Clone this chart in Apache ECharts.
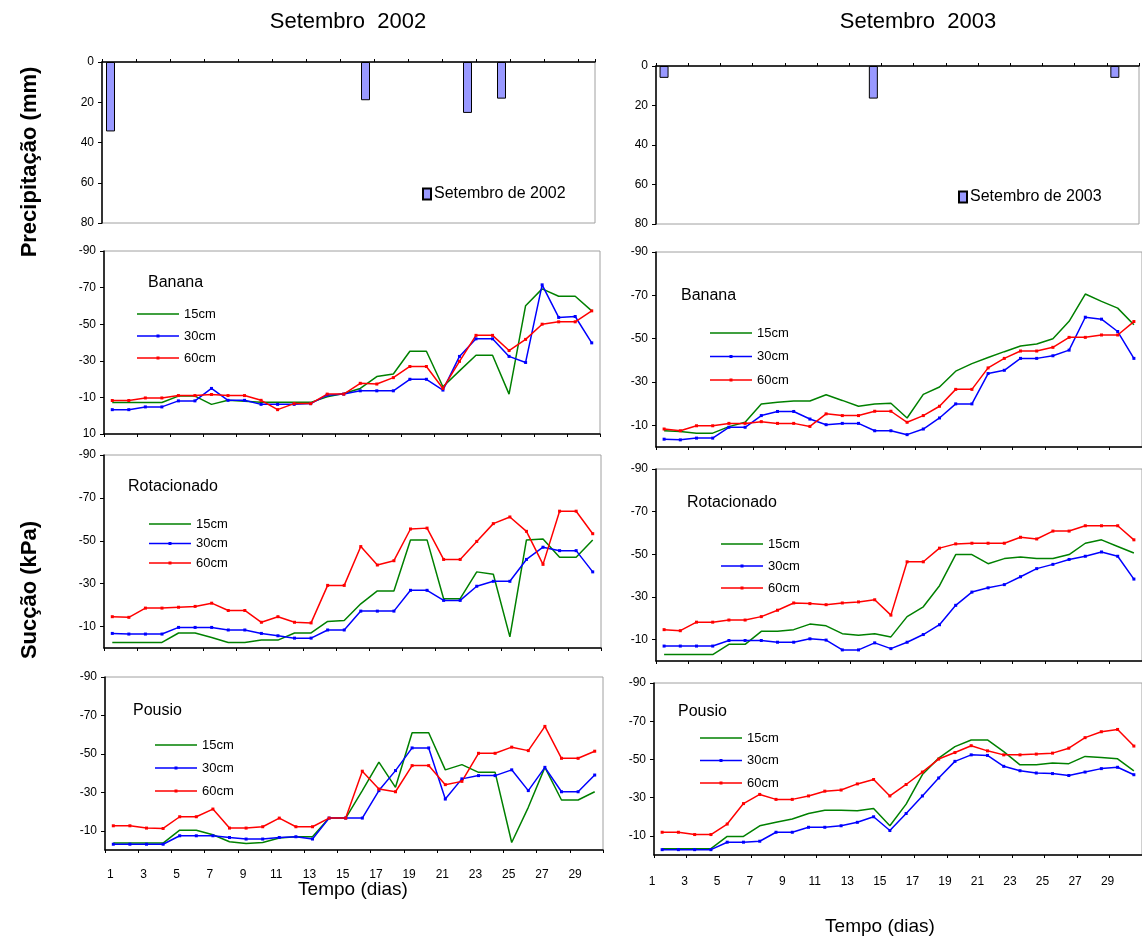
<!DOCTYPE html>
<html>
<head>
<meta charset="utf-8">
<script src="https://cdn.jsdelivr.net/npm/echarts@6/dist/echarts.min.js"></script>
<style>
html, body { margin: 0; padding: 0; background: #fff; }
#chart { width: 1142px; height: 938px; }
</style>
</head>
<body>
<div id="chart"></div>
<script>
// dias do mês
var days = ['1','2','3','4','5','6','7','8','9','10','11','12','13','14','15','16','17','18','19','20','21','22','23','24','25','26','27','28','29','30'];
// o gráfico de chuva de 2002 tem 29 posições no eixo
var rainSlots2002 = ['1','2','3','4','5','6','7','8','9','10','11','12','13','14','15','16','17','18','19','20','21','22','23','24','25','26','27','28','29'];

// precipitação (mm)
var rain2002 = [34.5,0,0,0,0,0,0,0,0,0,0,0,0,0,0,19,0,0,0,0,0,25.3,0,18.2,0,0,0,0,0];
var rain2003 = [6,0,0,0,0,0,0,0,0,0,0,0,0,16.5,0,0,0,0,0,0,0,0,0,0,0,0,0,0,6,0];

// sucção (kPa) - setembro 2002
var banana2002_15 = [-7.2,-7.2,-7.2,-7.2,-10.7,-10.7,-6.2,-8.4,-7.9,-7.3,-7.3,-7.3,-7.3,-10.3,-12.1,-14.9,-21.4,-22.8,-35.2,-35.2,-15.8,-24.5,-33,-33,-11.8,-60.1,-69.3,-65.3,-65.3,-57.3];
var banana2002_30 = [-3.3,-3.3,-4.8,-4.8,-8.1,-8.1,-14.9,-8.4,-8.4,-6.2,-6.2,-6.2,-6.6,-11.2,-11.8,-13.6,-13.6,-13.6,-19.9,-19.9,-14,-32.4,-42,-42,-32.4,-29.1,-71.5,-53.7,-54.2,-39.8];
var banana2002_60 = [-8.3,-8.3,-9.7,-9.7,-11,-11,-11.6,-11,-11,-8.4,-3.3,-6.6,-6.6,-11.8,-11.8,-17.7,-17.3,-20.8,-26.9,-26.9,-14.9,-29.7,-43.9,-43.9,-35.6,-41.7,-50,-51.3,-51.3,-57.3];

var rot2002_15 = [-2.6,-2.6,-2.6,-2.6,-7,-7,-4.9,-2.6,-2.6,-3.7,-3.7,-7,-7,-12.4,-12.8,-20.6,-26.6,-26.6,-50.4,-50.4,-23,-23,-35.5,-34.4,-5.2,-50.4,-50.8,-42.3,-42.3,-50.4];
var rot2002_30 = [-6.8,-6.5,-6.5,-6.5,-9.6,-9.6,-9.6,-8.4,-8.4,-6.8,-5.7,-4.6,-4.6,-8.4,-8.4,-17.2,-17.2,-17.2,-26.9,-26.9,-22.2,-22.2,-28.8,-31.1,-31.1,-41.3,-47,-45.4,-45.4,-35.5];
var rot2002_60 = [-14.6,-14.3,-18.6,-18.6,-19,-19.4,-20.9,-17.5,-17.5,-12,-14.6,-12,-11.7,-29.2,-29.2,-47.3,-38.7,-40.7,-55.5,-55.9,-41.3,-41.3,-49.7,-58,-61.1,-54.4,-39,-63.8,-63.8,-53.3];

var pousio2002_15 = [-3.6,-3.6,-3.6,-3.6,-10.3,-10.3,-7.9,-4.3,-3.4,-3.9,-6.2,-6.9,-6.9,-16.6,-16.6,-30.9,-45.7,-32.6,-61,-61,-41.7,-44.4,-40.4,-40.4,-3.9,-22.2,-43,-26,-26,-30.3];
var pousio2002_30 = [-3,-3,-3,-3,-7.4,-7.4,-7.4,-6.5,-5.7,-5.7,-6.5,-6.9,-5.7,-16.6,-16.6,-16.6,-30.9,-41.3,-53.1,-53.1,-26.5,-37,-38.7,-38.7,-41.7,-30.9,-43,-30.3,-30.3,-39];
var pousio2002_60 = [-12.6,-12.6,-11.4,-11.2,-17.3,-17.3,-21.3,-11.4,-11.4,-12.1,-16.6,-12.1,-12.1,-16.6,-16.6,-41,-31.7,-30.3,-43.9,-43.9,-34,-35.7,-50.3,-50.3,-53.5,-51.7,-64.3,-47.7,-47.7,-51.4];

// sucção (kPa) - setembro 2003
var banana2003_15 = [-7.5,-7.2,-6.4,-6.4,-9.4,-11.4,-19.9,-20.7,-21.2,-21.2,-24.1,-21.5,-18.8,-19.9,-20.2,-13.4,-24.3,-27.7,-35,-38.5,-41.3,-44,-46.6,-47.5,-50,-58,-70.6,-67.2,-64.1,-56.4];
var banana2003_30 = [-3.6,-3.3,-4.1,-4.1,-9.1,-9.1,-14.5,-16.4,-16.4,-12.9,-10.3,-10.9,-10.9,-7.5,-7.5,-5.7,-8.3,-13.4,-19.9,-19.9,-33.9,-35.4,-40.9,-40.9,-42.1,-44.7,-59.9,-59,-53.3,-40.9];
var banana2003_60 = [-8.3,-7.5,-9.8,-9.8,-10.9,-10.9,-11.7,-10.9,-10.9,-9.5,-15.3,-14.5,-14.5,-16.5,-16.5,-11.4,-14.5,-18.8,-26.6,-26.6,-36.5,-40.9,-44.3,-44.3,-46,-50.6,-50.6,-51.7,-51.7,-57.9];

var rot2003_15 = [-3,-3,-3,-3,-7.8,-7.8,-13.9,-13.9,-14.7,-17.3,-16.5,-12.8,-12.1,-12.8,-11.3,-20.8,-25.4,-35.3,-49.9,-49.9,-45.6,-48,-48.8,-48,-48,-49.9,-55.2,-56.8,-53.7,-50.6];
var rot2003_30 = [-7,-7,-7,-7,-9.6,-9.6,-9.6,-8.8,-8.8,-10.4,-9.8,-5.2,-5.2,-8.5,-5.8,-8.8,-12.4,-17,-26.1,-32.3,-34.3,-35.8,-39.5,-43.3,-45.3,-47.6,-49.1,-51.1,-49.1,-38.4];
var rot2003_60 = [-14.7,-14.2,-18.2,-18.2,-19.2,-19.2,-20.8,-23.8,-27.2,-26.9,-26.4,-27.2,-27.7,-28.7,-21.5,-46.5,-46.5,-52.9,-54.9,-55.2,-55.2,-55.2,-58,-57.2,-60.9,-60.9,-63.4,-63.4,-63.4,-56.8];

var pousio2003_15 = [-3.3,-3.3,-3.3,-3.3,-9.7,-9.7,-15.3,-17.1,-18.8,-21.7,-23.4,-23.4,-23.1,-24.3,-15.3,-26.6,-42.1,-50.7,-56.7,-60.2,-60.2,-54.1,-47.2,-47.2,-48.1,-47.8,-51.6,-51,-50.3,-44];
var pousio2003_30 = [-2.8,-2.8,-2.8,-2.8,-6.7,-6.7,-7.2,-11.9,-11.9,-14.5,-14.5,-15.3,-17.1,-20,-12.8,-21.7,-30.9,-40.3,-49,-52.4,-52.1,-46.4,-44.1,-42.9,-42.6,-41.6,-43.4,-45.2,-45.9,-42];
var pousio2003_60 = [-11.9,-11.9,-10.7,-10.7,-16.2,-26.9,-31.7,-29.1,-29.1,-30.9,-33.4,-34,-37.2,-39.5,-30.9,-36.9,-43.4,-50.2,-53.6,-57.2,-54.5,-52.4,-52.4,-52.8,-53.3,-55.9,-61.4,-64.5,-65.7,-57];

var rainTicks = [0, 20, 40, 60, 80];
var suctionTicks = [-90, -70, -50, -30, -10];
var suctionTicksBanana2002 = [-90, -70, -50, -30, -10, 10];

var FONT = '"Liberation Sans", Arial, sans-serif';
var GREEN = '#008000', BLUE = '#0000ff', RED = '#ff0000';
var AXIS = '#000', BORDER = '#a0a0a0';
// ícones da legenda: traço fino, com marcador pequeno no meio para 30cm e 60cm
var ICON_LINE = 'path://M0,0.75L42,0.75L42,2.25L0,2.25Z';
var ICON_MARK = 'path://M0,0.75L42,0.75L42,2.25L0,2.25Z M19.5,0L22.5,0L22.5,3L19.5,3Z';

var myChart = echarts.init(document.getElementById('chart'), null, { renderer: 'canvas' });

var grid = [], xAxis = [], yAxis = [], series = [], legend = [], graphic = [];

// ---- precipitação ----
function addRain(left, top, width, height, cats, values, name, legendLeft, legendTop) {
  var i = grid.length;
  grid.push({ left: left, top: top, width: width, height: height, show: true, borderColor: BORDER, borderWidth: 1, backgroundColor: 'transparent' });
  xAxis.push({
    gridIndex: i, type: 'category', data: cats, position: 'top', boundaryGap: true,
    axisLine: { onZero: false, lineStyle: { color: AXIS, width: 1.5 } },
    axisTick: { show: true, length: 3, lineStyle: { color: AXIS } },
    axisLabel: { show: false }
  });
  yAxis.push({
    gridIndex: i, type: 'value', inverse: true, min: 0, max: 80, interval: 20,
    axisLine: { show: true, lineStyle: { color: AXIS, width: 1.5 } },
    axisTick: { show: true, length: 4, customValues: rainTicks, lineStyle: { color: AXIS } },
    axisLabel: { customValues: rainTicks, color: '#000', fontSize: 12, fontFamily: FONT, margin: 8 },
    splitLine: { show: false }
  });
  series.push({
    name: name, type: 'bar', xAxisIndex: i, yAxisIndex: i, barWidth: 9,
    data: values.map(function (v) { return v > 0 ? v : '-'; }),
    itemStyle: { color: '#9999ff', borderColor: '#000', borderWidth: 1 }
  });
  legend.push({
    left: legendLeft, top: legendTop, data: [name], icon: 'rect', itemWidth: 8, itemHeight: 11,
    itemGap: 4, selectedMode: false,
    textStyle: { fontSize: 16, fontFamily: FONT, color: '#000', padding: [0, 0, 0, -2] }
  });
}

// ---- sucção ----
function addSuction(p) {
  var i = grid.length;
  grid.push({ left: p.left, top: p.top, width: p.width, height: p.height, show: true, borderColor: BORDER, borderWidth: 1, backgroundColor: 'transparent' });
  xAxis.push({
    gridIndex: i, type: 'category', data: days, boundaryGap: true,
    axisLine: { onZero: false, lineStyle: { color: AXIS, width: 1.5 } },
    axisTick: { show: true, length: 3, lineStyle: { color: AXIS } },
    axisLabel: p.labels ? { show: true, interval: 1, color: '#000', fontSize: 12, fontFamily: FONT, margin: p.labelMargin, padding: p.labelPad } : { show: false }
  });
  yAxis.push({
    gridIndex: i, type: 'value', inverse: true, min: -90, max: p.max,
    axisLine: { show: true, lineStyle: { color: AXIS, width: 1.5 } },
    axisTick: { show: true, length: 4, customValues: p.ticks, lineStyle: { color: AXIS } },
    axisLabel: { customValues: p.ticks, color: '#000', fontSize: 12, fontFamily: FONT, margin: 8 },
    splitLine: { show: false }
  });
  var sets = [['15cm', p.d15, GREEN, 'none'], ['30cm', p.d30, BLUE, 'rect'], ['60cm', p.d60, RED, 'rect']];
  sets.forEach(function (s) {
    series.push({
      name: s[0], type: 'line', xAxisIndex: i, yAxisIndex: i, data: s[1],
      symbol: s[3], symbolSize: 3, showSymbol: s[3] !== 'none',
      itemStyle: { color: s[2] }, lineStyle: { color: s[2], width: 1.5 }
    });
  });
  legend.push({
    left: p.legendLeft, top: p.legendTop, orient: 'vertical',
    data: [{ name: '15cm', icon: ICON_LINE }, { name: '30cm', icon: ICON_MARK }, { name: '60cm', icon: ICON_MARK }],
    itemWidth: 42, itemHeight: 3, itemGap: p.legendGap, selectedMode: false,
    textStyle: { fontSize: 13, fontFamily: FONT, color: '#000', lineHeight: 14 }
  });
  graphic.push({ type: 'text', left: p.nameLeft, top: p.nameTop, style: { text: p.name, fontSize: 16, fontFamily: FONT, fill: '#000' } });
}

addRain(102, 62, 493, 161, rainSlots2002, rain2002, 'Setembro de 2002', 417, 181);
addRain(656, 66, 483, 158, days, rain2003, 'Setembro de 2003', 953, 184);

var panels = [
  { name: 'Banana', left: 104, width: 496, top: 251, height: 183, max: 10, ticks: suctionTicksBanana2002,
    d15: banana2002_15, d30: banana2002_30, d60: banana2002_60,
    legendLeft: 132, legendTop: 302, legendGap: 8, nameLeft: 148, nameTop: 275 },
  { name: 'Rotacionado', left: 104, width: 497, top: 455, height: 193, max: 0, ticks: suctionTicks,
    d15: rot2002_15, d30: rot2002_30, d60: rot2002_60,
    legendLeft: 144, legendTop: 512, legendGap: 5.5, nameLeft: 128, nameTop: 479 },
  { name: 'Pousio', left: 105, width: 498, top: 677, height: 173, max: 0, ticks: suctionTicks,
    d15: pousio2002_15, d30: pousio2002_30, d60: pousio2002_60,
    legendLeft: 150, legendTop: 733, legendGap: 9, nameLeft: 133, nameTop: 703,
    labels: true, labelMargin: 19, labelPad: [0, 6, 0, 0] },
  { name: 'Banana', left: 656, width: 492, top: 252, height: 195, max: 0, ticks: suctionTicks,
    d15: banana2003_15, d30: banana2003_30, d60: banana2003_60,
    legendLeft: 705, legendTop: 321, legendGap: 9.5, nameLeft: 681, nameTop: 288 },
  { name: 'Rotacionado', left: 656, width: 492, top: 469, height: 192, max: 0, ticks: suctionTicks,
    d15: rot2003_15, d30: rot2003_30, d60: rot2003_60,
    legendLeft: 716, legendTop: 532, legendGap: 8, nameLeft: 687, nameTop: 495 },
  { name: 'Pousio', left: 654, width: 494, top: 683, height: 172, max: 0, ticks: suctionTicks,
    d15: pousio2003_15, d30: pousio2003_30, d60: pousio2003_60,
    legendLeft: 695, legendTop: 726, legendGap: 8.5, nameLeft: 678, nameTop: 704,
    labels: true, labelMargin: 21, labelPad: [0, 20, 0, 0] }
];
panels.forEach(addSuction);

// títulos e rótulos
graphic.push(
  { type: 'text', x: 348, y: 22, style: { text: 'Setembro  2002', fontSize: 22, fontFamily: FONT, fill: '#000', align: 'center', verticalAlign: 'middle' } },
  { type: 'text', x: 918, y: 22, style: { text: 'Setembro  2003', fontSize: 22, fontFamily: FONT, fill: '#000', align: 'center', verticalAlign: 'middle' } },
  { type: 'text', x: 30, y: 162, rotation: Math.PI / 2, style: { text: 'Precipitação (mm)', fontSize: 22, fontWeight: 'bold', fontFamily: FONT, fill: '#000', align: 'center', verticalAlign: 'middle' } },
  { type: 'text', x: 30, y: 590, rotation: Math.PI / 2, style: { text: 'Sucção (kPa)', fontSize: 22, fontWeight: 'bold', fontFamily: FONT, fill: '#000', align: 'center', verticalAlign: 'middle' } },
  { type: 'text', x: 353, y: 890, style: { text: 'Tempo (dias)', fontSize: 19, fontFamily: FONT, fill: '#000', align: 'center', verticalAlign: 'middle' } },
  { type: 'text', x: 880, y: 927, style: { text: 'Tempo (dias)', fontSize: 19, fontFamily: FONT, fill: '#000', align: 'center', verticalAlign: 'middle' } }
);

myChart.setOption({
  backgroundColor: '#fff',
  animation: false,
  grid: grid,
  xAxis: xAxis,
  yAxis: yAxis,
  legend: legend,
  series: series,
  graphic: graphic
});
</script>
</body>
</html>
